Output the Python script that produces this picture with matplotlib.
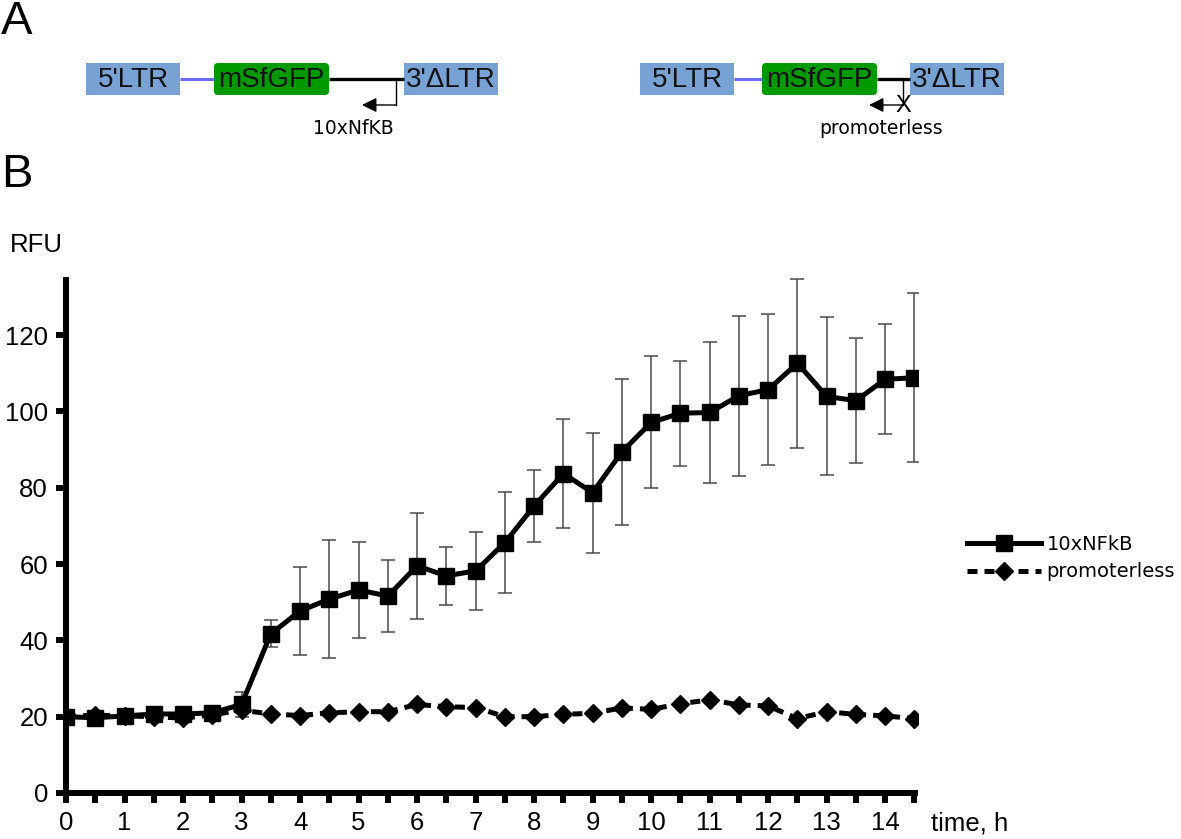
# RFU time course of the 10xNFkB reporter vs promoterless control,
# with the construct diagrams drawn above as panel A.

import matplotlib
matplotlib.use("Agg")
import matplotlib.pyplot as plt
from matplotlib.patches import Rectangle, FancyBboxPatch

# ---- data ----
time_h = [0, 0.5, 1, 1.5, 2, 2.5, 3, 3.5, 4, 4.5, 5, 5.5, 6, 6.5, 7,
          7.5, 8, 8.5, 9, 9.5, 10, 10.5, 11, 11.5, 12, 12.5, 13, 13.5, 14, 14.5]

nfkb = [20.0, 19.7, 20.2, 20.7, 20.7, 21.0, 23.2, 41.7, 47.7, 50.8,
        53.2, 51.6, 59.5, 56.9, 58.2, 65.6, 75.2, 83.7, 78.7, 89.4,
        97.1, 99.5, 99.7, 104.1, 105.7, 112.6, 103.9, 102.8, 108.4, 108.8]

nfkb_err = [0.6, 0.6, 0.6, 0.6, 0.6, 0.6, 3.3, 3.5, 11.5, 15.5,
            12.5, 9.5, 13.9, 7.6, 10.3, 13.3, 9.4, 14.3, 15.7, 19.2,
            17.3, 13.7, 18.4, 21.0, 19.8, 22.2, 20.7, 16.3, 14.4, 22.2]

promoterless = [20.0, 20.4, 20.2, 20.0, 19.6, 20.5, 21.7, 20.7, 20.3, 21.0,
                21.3, 21.3, 23.2, 22.6, 22.4, 20.0, 20.0, 20.6, 20.9, 22.3,
                21.9, 23.4, 24.4, 23.1, 22.8, 19.5, 21.3, 20.6, 20.2, 19.5]

x_major = list(range(0, 15))
x_minor = time_h
y_ticks = [0, 20, 40, 60, 80, 100, 120]

series_labels = ["10xNFkB", "promoterless"]

LTR_BLUE = "#77a2d3"
GFP_GREEN = "#009a00"
LINK_BLUE = "#6b6bff"

W, H = 1181, 839
fig = plt.figure(figsize=(W / 100, H / 100), dpi=100)

# ---- panel A: constructs, drawn in pixel coords ----
ax0 = fig.add_axes([0, 0, 1, 1])
ax0.set_xlim(0, W)
ax0.set_ylim(H, 0)
ax0.axis("off")

box_font = dict(family="Liberation Sans", fontsize=20, ha="center", va="center", color="#111111")


def construct(x_ltr5, x_gfp, x_gfp_end, x_ltr3, x_prom, label, knock_out):
    top, hgt = 63, 32
    mid = top + hgt / 2
    # linkers
    ax0.plot([x_ltr5 + 94, x_gfp], [mid, mid], color=LINK_BLUE, lw=2.2, solid_capstyle="butt")
    ax0.plot([x_gfp_end, x_ltr3], [mid, mid], color="black", lw=2.4, solid_capstyle="butt")
    # boxes
    ax0.add_patch(Rectangle((x_ltr5, top), 94, hgt, fc=LTR_BLUE, ec="none"))
    ax0.add_patch(Rectangle((x_ltr3, top), 94, hgt, fc=LTR_BLUE, ec="none"))
    ax0.add_patch(FancyBboxPatch((x_gfp + 4, top + 4), x_gfp_end - x_gfp - 8, hgt - 8,
                                 boxstyle="round,pad=4", fc=GFP_GREEN, ec="none"))
    ax0.text(x_ltr5 + 47, mid + 1, "5'LTR", **box_font)
    ax0.text((x_gfp + x_gfp_end) / 2, mid + 1, "mSfGFP", **box_font)
    ax0.text(x_ltr3 + 47, mid + 1, "3'\u0394LTR", **box_font)
    # promoter arrow
    ax0.plot([x_prom, x_prom], [mid, 105], color="black", lw=1.0)
    ax0.annotate("", xy=(x_prom - 34, 105), xytext=(x_prom, 105),
                 arrowprops=dict(arrowstyle="-|>", color="black", lw=1.0,
                                 mutation_scale=22, shrinkA=0, shrinkB=0))
    if knock_out:
        ax0.text(x_prom, 106, "X", family="Liberation Sans", fontsize=17,
                 ha="center", va="center", color="black")
    ax0.text(x_prom - 43 if not knock_out else x_prom - 22, 129, label,
             family="DejaVu Sans", fontsize=13.5, ha="center", va="center")


construct(86, 214, 329, 404, 396, "10xNfKB", False)
construct(640, 762, 877, 910, 903, "promoterless", True)

ax0.text(1, 22, "A", family="Liberation Sans", fontsize=34, va="center", ha="left")
ax0.text(1, 175, "B", family="Liberation Sans", fontsize=34, va="center", ha="left")

# ---- panel B: time course ----
ax = fig.add_axes([66 / W, 1 - 793 / H, (918 - 66) / W, (793 - 277) / H])
ax.patch.set_alpha(0)

ax.errorbar(time_h, nfkb, yerr=nfkb_err, fmt="none", ecolor="#4a4a4a",
            elinewidth=1.1, capsize=5, capthick=1.1, zorder=2)
ax.plot(time_h, nfkb, color="black", lw=3.6, marker="s", markersize=12,
        label=series_labels[0], zorder=3)
ax.plot(time_h, promoterless, color="black", lw=3.6, linestyle=(0, (2, 1.4)),
        marker="D", markersize=9.5, label=series_labels[1], zorder=3)

ax.set_xlim(0, 14.56)
ax.set_ylim(0, 135.2)
ax.set_xticks(x_major)
ax.set_xticks(x_minor, minor=True)
ax.set_yticks(y_ticks)

for s in ["top", "right"]:
    ax.spines[s].set_visible(False)
for s in ["left", "bottom"]:
    ax.spines[s].set_linewidth(4.3)
    ax.spines[s].set_capstyle("butt")

ax.tick_params(axis="both", which="both", direction="out", width=4.3, length=7, color="black")
ax.tick_params(axis="x", which="major", pad=6)
ax.tick_params(axis="y", which="major", pad=6)
for lab in ax.get_xticklabels() + ax.get_yticklabels():
    lab.set_family("Liberation Sans")
    lab.set_fontsize(18.5)

fig.text(10 / W, 1 - 245 / H, "RFU", family="Liberation Sans", fontsize=18.5,
         ha="left", va="center")
fig.text(931 / W, 1 - 823 / H, "time, h", family="Liberation Sans", fontsize=18.5,
         ha="left", va="center")

fig.legend(loc="center left", bbox_to_anchor=(967 / W, 1 - 558 / H),
           frameon=False, prop=dict(family="DejaVu Sans", size=14),
           handlelength=3.8, handletextpad=0.3, labelspacing=0.45,
           borderpad=0, borderaxespad=0)

fig.savefig("out.png", dpi=100)
